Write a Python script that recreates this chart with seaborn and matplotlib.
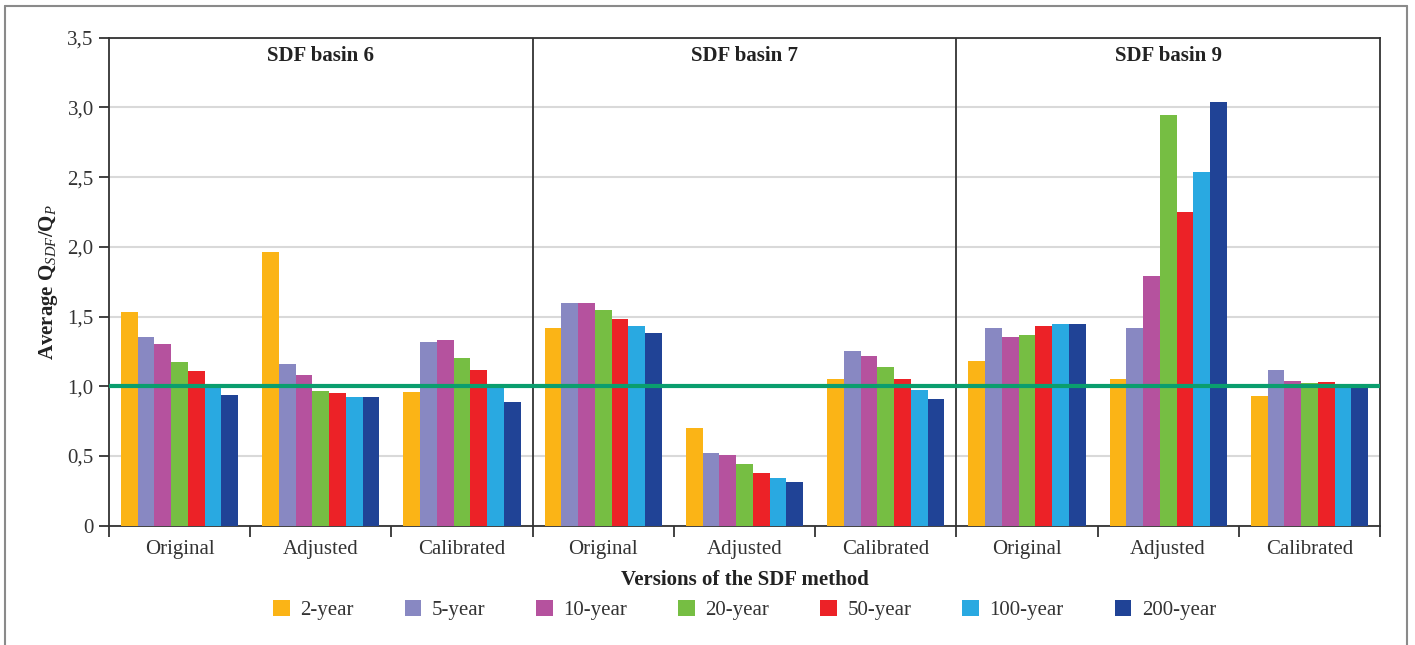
import numpy as np
import pandas as pd
import matplotlib
matplotlib.use("Agg")
import matplotlib.pyplot as plt
import seaborn as sns
from matplotlib.patches import Patch
from matplotlib.lines import Line2D

# ---- data ----
basins = ["SDF basin 6", "SDF basin 7", "SDF basin 9"]
versions = ["Original", "Adjusted", "Calibrated"]
periods = ["2-year", "5-year", "10-year", "20-year", "50-year", "100-year", "200-year"]

b6_original = [1.53, 1.35, 1.30, 1.175, 1.11, 1.015, 0.94]
b6_adjusted = [1.96, 1.16, 1.08, 0.965, 0.95, 0.92, 0.92]
b6_calibrated = [0.96, 1.32, 1.335, 1.20, 1.115, 1.00, 0.89]
b7_original = [1.42, 1.60, 1.60, 1.55, 1.48, 1.43, 1.38]
b7_adjusted = [0.70, 0.52, 0.51, 0.445, 0.38, 0.34, 0.31]
b7_calibrated = [1.055, 1.255, 1.215, 1.14, 1.05, 0.975, 0.91]
b9_original = [1.18, 1.415, 1.35, 1.365, 1.43, 1.45, 1.45]
b9_adjusted = [1.05, 1.415, 1.79, 2.945, 2.25, 2.54, 3.04]
b9_calibrated = [0.93, 1.115, 1.035, 1.02, 1.03, 1.015, 1.00]

ytick_vals = [0, 0.5, 1.0, 1.5, 2.0, 2.5, 3.0, 3.5]
ytick_labels = ["0", "0,5", "1,0", "1,5", "2,0", "2,5", "3,0", "3,5"]
reference_value = 1.0

colors = ["#FBB416", "#8888C2", "#B5529E", "#76BE43", "#EC2227", "#29A9E1", "#204396"]

series = [b6_original, b6_adjusted, b6_calibrated,
          b7_original, b7_adjusted, b7_calibrated,
          b9_original, b9_adjusted, b9_calibrated]

rows = []
cat_keys = []
cat_labels = []
for bi, b in enumerate(basins):
    for vi, v in enumerate(versions):
        key = f"{b}|{v}"
        cat_keys.append(key)
        cat_labels.append(v)
        vals = series[bi * 3 + vi]
        for p, val in zip(periods, vals):
            rows.append({"cat": key, "period": p, "value": val})
df = pd.DataFrame(rows)

# ---- style ----
sns.set_theme(style="white")
plt.rcParams["font.family"] = ["Liberation Serif", "DejaVu Serif"]
plt.rcParams["mathtext.fontset"] = "custom"
plt.rcParams["mathtext.rm"] = "Liberation Serif"
plt.rcParams["mathtext.it"] = "Liberation Serif:italic"
plt.rcParams["mathtext.bf"] = "Liberation Serif:bold"

fig = plt.figure(figsize=(14.15, 6.45), dpi=100)
ax = fig.add_axes([109 / 1415, 1 - 525.7 / 645, (1380 - 109) / 1415, (525.7 - 37.7) / 645])

sns.barplot(data=df, x="cat", y="value", hue="period", order=cat_keys,
            hue_order=periods, palette=colors, width=0.83, saturation=1,
            legend=False, ax=ax, zorder=3)
for p in ax.patches:
    p.set_edgecolor("none")

ax.set_xlim(-0.5, len(cat_keys) - 0.5)
ax.set_ylim(0, 3.5)

# gridlines
ax.set_yticks(ytick_vals)
ax.set_yticklabels(ytick_labels, fontsize=15, color="#333333")
ax.yaxis.grid(True, color="#d9d9d9", linewidth=1.5, zorder=0)
ax.set_axisbelow(True)
ax.tick_params(axis="y", which="major", direction="out", length=7, width=1.3,
               color="#333333", left=True, pad=4)

# x ticks: labels at centres, tick marks at group boundaries
ax.set_xticks(range(len(cat_keys)))
ax.set_xticklabels(cat_labels, fontsize=15, color="#333333")
ax.tick_params(axis="x", which="major", length=0, pad=10)
ax.set_xticks(np.arange(-0.5, len(cat_keys), 1.0), minor=True)
ax.tick_params(axis="x", which="minor", direction="out", length=8, width=1.3,
               color="#333333", bottom=True)

for s in ax.spines.values():
    s.set_visible(True)
    s.set_color("#333333")
    s.set_linewidth(1.3)

# basin dividers
for xb in [2.5, 5.5]:
    ax.axvline(xb, color="#333333", linewidth=1.3, zorder=5)

# reference line
ax.axhline(reference_value, color="#0A9E6E", linewidth=3, zorder=6)

# panel titles
for bi, b in enumerate(basins):
    ax.text(bi * 3 + 1, 0.962, b, transform=ax.get_xaxis_transform(),
            ha="center", va="center", fontsize=15, fontweight="bold", color="#222222")

ax.set_xlabel("Versions of the SDF method", fontsize=15, fontweight="bold",
              color="#222222", labelpad=8)
ax.set_ylabel(r"Average Q$_{SDF}$/Q$_{P}$", fontsize=15, fontweight="bold",
              color="#222222", labelpad=5)

handles = [Patch(facecolor=c, edgecolor="none") for c in colors]
leg = fig.legend(handles, periods, loc="center", ncol=7,
                 bbox_to_anchor=((109 + 1380) / 2 / 1415, 1 - 610 / 645),
                 frameon=False, fontsize=15, handlelength=0.8, handleheight=0.8,
                 handletextpad=0.5, columnspacing=2.45)
for t in leg.get_texts():
    t.set_color("#333333")

# outer figure border
bc = "#8a8a8a"
fig.add_artist(Line2D([4.5 / 1415, 4.5 / 1415], [0, 1 - 6 / 645], transform=fig.transFigure, color=bc, lw=1.5))
fig.add_artist(Line2D([4.5 / 1415, 1407 / 1415], [1 - 6 / 645, 1 - 6 / 645], transform=fig.transFigure, color=bc, lw=1.5))
fig.add_artist(Line2D([1407 / 1415, 1407 / 1415], [0, 1 - 6 / 645], transform=fig.transFigure, color=bc, lw=1.5))

fig.savefig("out.png", dpi=100, facecolor="white")
